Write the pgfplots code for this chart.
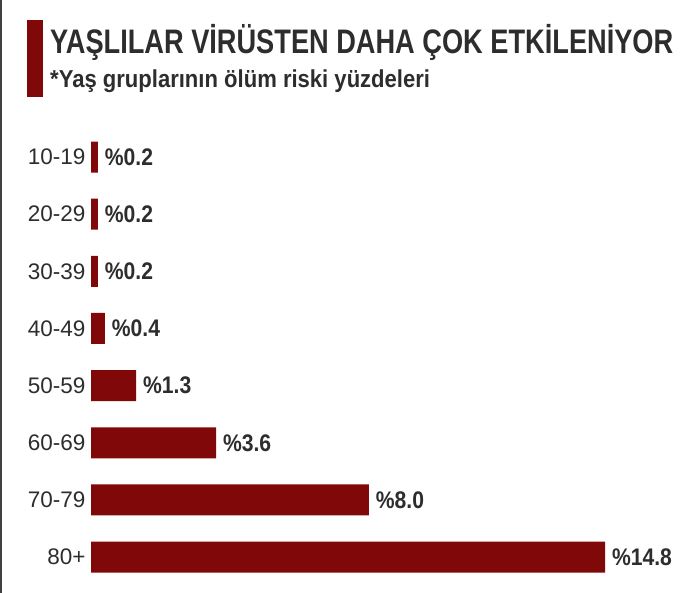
\documentclass[border=0pt]{standalone}
\usepackage{graphicx}
\usepackage{pgfplots}
\pgfplotsset{compat=1.18}
\usepackage{fontspec}
\setmainfont{Liberation Sans}
\definecolor{barred}{RGB}{128,8,8}
\definecolor{txt}{RGB}{45,45,45}
\begin{document}
\begin{tikzpicture}
\path[use as bounding box, fill=white] (0bp,0bp) rectangle (699bp,593bp);
\fill[black!75] (0bp,0bp) rectangle (1.5bp,593bp);
\fill[barred] (27bp,496bp) rectangle (42.5bp,573bp);
\node[anchor=base west, inner sep=0, text=txt] at (50bp,539bp) {\scalebox{0.80}[1]{\fontsize{34bp}{36bp}\selectfont\bfseries YAŞLILAR VİRÜSTEN DAHA ÇOK ETKİLENİYOR}};
\node[anchor=base west, inner sep=0, text=txt] at (50bp,505bp) {\scalebox{0.9}[1]{\fontsize{24.5bp}{28bp}\selectfont\bfseries *Yaş gruplarının ölüm riski yüzdeleri}};
\begin{axis}[at={(91bp,7.4bp)}, anchor=south west, scale only axis,
  width=514bp, height=457.1bp,
  xmin=0, xmax=14.8, ymin=-0.5, ymax=7.5, y dir=reverse,
  clip=false, axis line style={draw=none}, major tick length=0,
  xtick=\empty, ytick={0,...,7},
  yticklabels={10-19,20-29,30-39,40-49,50-59,60-69,70-79,80+},
  yticklabel style={font=\fontsize{22.5bp}{24bp}\selectfont, text=txt, xshift=-2bp},
  /pgf/number format/assume math mode=true,
  ]
\addplot[xbar, fill=barred, draw=none, bar width=31bp,
  point meta=x,
  nodes near coords={\scalebox{0.88}[1]{\%\pgfmathprintnumber[fixed,precision=1,fixed zerofill,assume math mode=true]{\pgfplotspointmeta}}},
  nodes near coords style={font=\fontsize{24bp}{26bp}\selectfont\bfseries, text=txt, anchor=west, xshift=3.5bp},
  ] coordinates {(0.2,0) (0.2,1) (0.2,2) (0.4,3) (1.3,4) (3.6,5) (8.0,6) (14.8,7)};
\end{axis}
\end{tikzpicture}
\end{document}
